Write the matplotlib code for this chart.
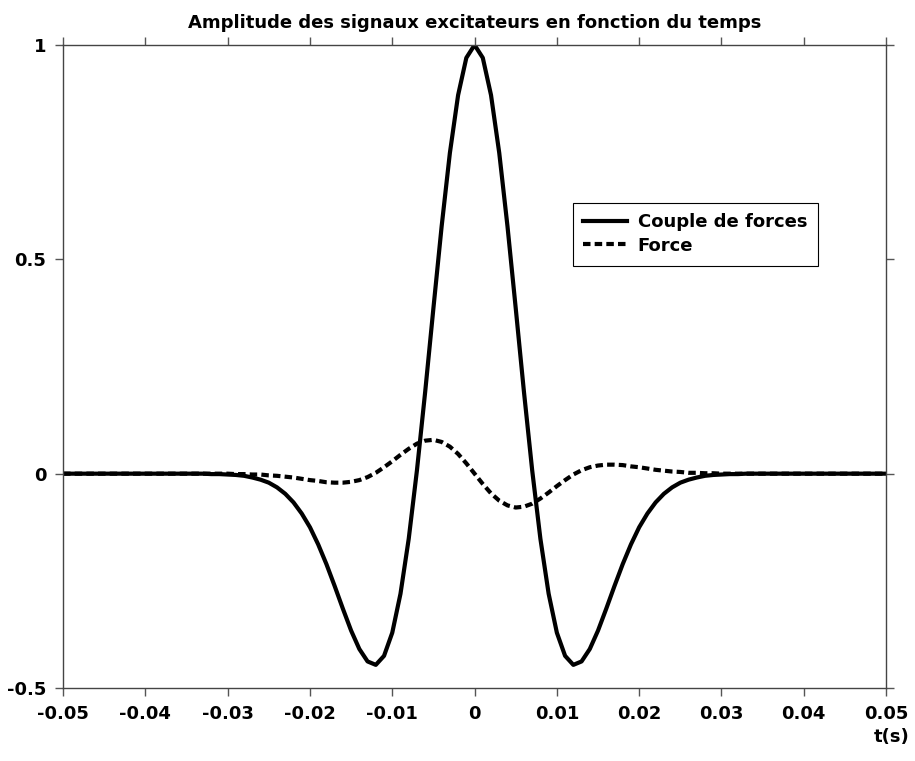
import numpy as np
import matplotlib
matplotlib.use('Agg')
import matplotlib.pyplot as plt

# sample times (s), 1 ms step
t = np.linspace(-0.05, 0.05, 101)

# "Couple de forces" (solid), t = -0.05 ... 0.05
couple = [0.000] * 15 + [
    0.000, 0.000, 0.000, -0.001, -0.001, -0.002, -0.003, -0.005, -0.009, -0.014,
    -0.021, -0.032, -0.047, -0.067, -0.093, -0.125, -0.165, -0.211, -0.262, -0.315,
    -0.366, -0.409, -0.438, -0.446, -0.425, -0.371, -0.280, -0.152, 0.008, 0.191,
    0.386, 0.577, 0.748, 0.883, 0.970,
    1.000,
    0.970, 0.883, 0.748, 0.577, 0.386, 0.191, 0.008, -0.152, -0.280, -0.371,
    -0.425, -0.446, -0.438, -0.409, -0.366, -0.315, -0.262, -0.211, -0.165, -0.125,
    -0.093, -0.067, -0.047, -0.032, -0.021, -0.014, -0.009, -0.005, -0.003, -0.002,
    -0.001, -0.001, 0.000, 0.000, 0.000,
] + [0.000] * 15

# "Force" (dashed)
force = [0.000] * 15 + [
    0.000, 0.000, 0.000, 0.000, 0.000, 0.000, -0.001, -0.001, -0.002, -0.002,
    -0.004, -0.005, -0.007, -0.009, -0.012, -0.015, -0.017, -0.020, -0.021, -0.021,
    -0.019, -0.015, -0.008, 0.002, 0.015, 0.029, 0.044, 0.058, 0.070, 0.077,
    0.079, 0.074, 0.063, 0.046, 0.024,
    0.000,
    -0.024, -0.046, -0.063, -0.074, -0.079, -0.077, -0.070, -0.058, -0.044, -0.029,
    -0.015, -0.002, 0.008, 0.015, 0.019, 0.021, 0.021, 0.020, 0.017, 0.015,
    0.012, 0.009, 0.007, 0.005, 0.004, 0.002, 0.002, 0.001, 0.001, 0.000,
    0.000, 0.000, 0.000, 0.000, 0.000,
] + [0.000] * 15

xticks = [-0.05, -0.04, -0.03, -0.02, -0.01, 0, 0.01, 0.02, 0.03, 0.04, 0.05]
xlabels = ['-0.05', '-0.04', '-0.03', '-0.02', '-0.01', '0', '0.01', '0.02', '0.03', '0.04', '0.05']
yticks = [-0.5, 0, 0.5, 1]
ylabels = ['-0.5', '0', '0.5', '1']

plt.rcParams['font.family'] = ['DejaVu Sans']
plt.rcParams['font.weight'] = 'bold'

fig = plt.figure(figsize=(9.15, 7.61), dpi=100)
ax = fig.add_axes([0.0689, 0.0959, 0.8995, 0.845])

ax.plot(t, couple, color='black', linewidth=3.0, solid_joinstyle='round',
        label='Couple de forces')
ax.plot(t, force, color='black', linewidth=3.0, linestyle=(0, (1.8, 1.0)),
        label='Force')

ax.set_xlim(-0.05, 0.05)
ax.set_ylim(-0.5, 1)
ax.set_xticks(xticks)
ax.set_xticklabels(xlabels)
ax.set_yticks(yticks)
ax.set_yticklabels(ylabels)
ax.tick_params(direction='out', length=6, width=1, color='#555555',
               top=True, right=True, labelsize=13, pad=6)
for s in ax.spines.values():
    s.set_color('#444444')
    s.set_linewidth(1)

ax.set_title('Amplitude des signaux excitateurs en fonction du temps',
             fontsize=13, fontweight='bold', pad=12)
ax.text(1.029, -0.062, 't(s)', transform=ax.transAxes, ha='right', va='top',
        fontsize=13, fontweight='bold')

leg = ax.legend(loc='upper left', bbox_to_anchor=(0.619, 0.755), fontsize=13,
                frameon=True, fancybox=False, framealpha=1, handlelength=2.4,
                borderpad=0.6, labelspacing=0.3, handletextpad=0.6,
                borderaxespad=0)
leg.get_frame().set_edgecolor('black')
leg.get_frame().set_linewidth(0.8)

fig.savefig('out.png', dpi=100, facecolor='white')
